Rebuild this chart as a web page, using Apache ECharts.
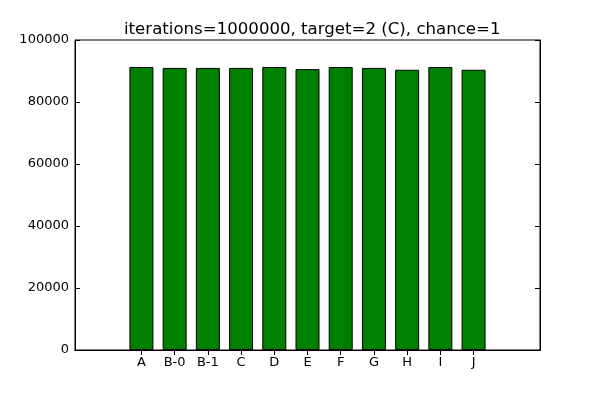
<!DOCTYPE html>
<html><head><meta charset="utf-8">
<script src="https://cdn.jsdelivr.net/npm/echarts@6/dist/echarts.min.js"></script>
<style>html,body{margin:0;padding:0;background:#fff}#c{width:600px;height:400px}</style>
</head><body><div id="c"></div>
<script>
const titleText = 'iterations=1000000, target=2 (C), chance=1';
const categories = ['A','B-0','B-1','C','D','E','F','G','H','I','J'];
const values = [91300, 91000, 91000, 91000, 91300, 90600, 91300, 91000, 90400, 91300, 90400];
const yTicks = [0, 20000, 40000, 60000, 80000, 100000];

const padL = 2, padR = 2;
const cats = [];
for (let i = 0; i < padL; i++) cats.push('');
categories.forEach(c => cats.push(c));
for (let i = 0; i < padR; i++) cats.push('');
const data = [];
for (let i = 0; i < padL; i++) data.push(null);
values.forEach(v => data.push(v));
for (let i = 0; i < padR; i++) data.push(null);
const isReal = (idx) => idx >= padL && idx < padL + categories.length;

const font = 'DejaVu Sans';
const chart = echarts.init(document.getElementById('c'));
chart.setOption({
  animation: false,
  title: { text: titleText, left: 119, top: 16,
    textStyle: { fontFamily: font, fontSize: 16.6, fontWeight: 'normal', color: '#000' } },
  grid: { left: 75, right: 60, top: 40, bottom: 50, show: true, borderColor: '#000', borderWidth: 1 },
  xAxis: [{
    type: 'category', data: cats, boundaryGap: false, position: 'bottom',
    axisLine: { lineStyle: { color: '#000' } },
    axisTick: { inside: true, length: 5, interval: (i) => isReal(i), lineStyle: { color: '#000' } },
    axisLabel: { interval: 0, color: '#000', fontFamily: font, fontSize: 13, margin: 6 }
  }, {
    type: 'category', data: cats, boundaryGap: false, position: 'top',
    axisLine: { lineStyle: { color: '#000' } },
    axisTick: { inside: true, length: 5, interval: (i) => isReal(i), lineStyle: { color: '#000' } },
    axisLabel: { show: false }
  }],
  yAxis: [{
    type: 'value', min: yTicks[0], max: yTicks[yTicks.length - 1], interval: 20000, position: 'left',
    axisLine: { show: true, lineStyle: { color: '#000' } },
    axisTick: { show: true, inside: true, length: 5, lineStyle: { color: '#000' } },
    splitLine: { show: false },
    axisLabel: { color: '#000', fontFamily: font, fontSize: 13, margin: 6, formatter: (v) => String(v) }
  }, {
    type: 'value', min: yTicks[0], max: yTicks[yTicks.length - 1], interval: 20000, position: 'right',
    axisLine: { show: true, lineStyle: { color: '#000' } },
    axisTick: { show: true, inside: true, length: 5, lineStyle: { color: '#000' } },
    splitLine: { show: false },
    axisLabel: { show: false }
  }],
  series: [{
    type: 'bar', data: data, barWidth: 24, xAxisIndex: 0, yAxisIndex: 0,
    itemStyle: { color: '#008000', borderColor: '#000', borderWidth: 1 }
  }]
});
</script></body></html>
